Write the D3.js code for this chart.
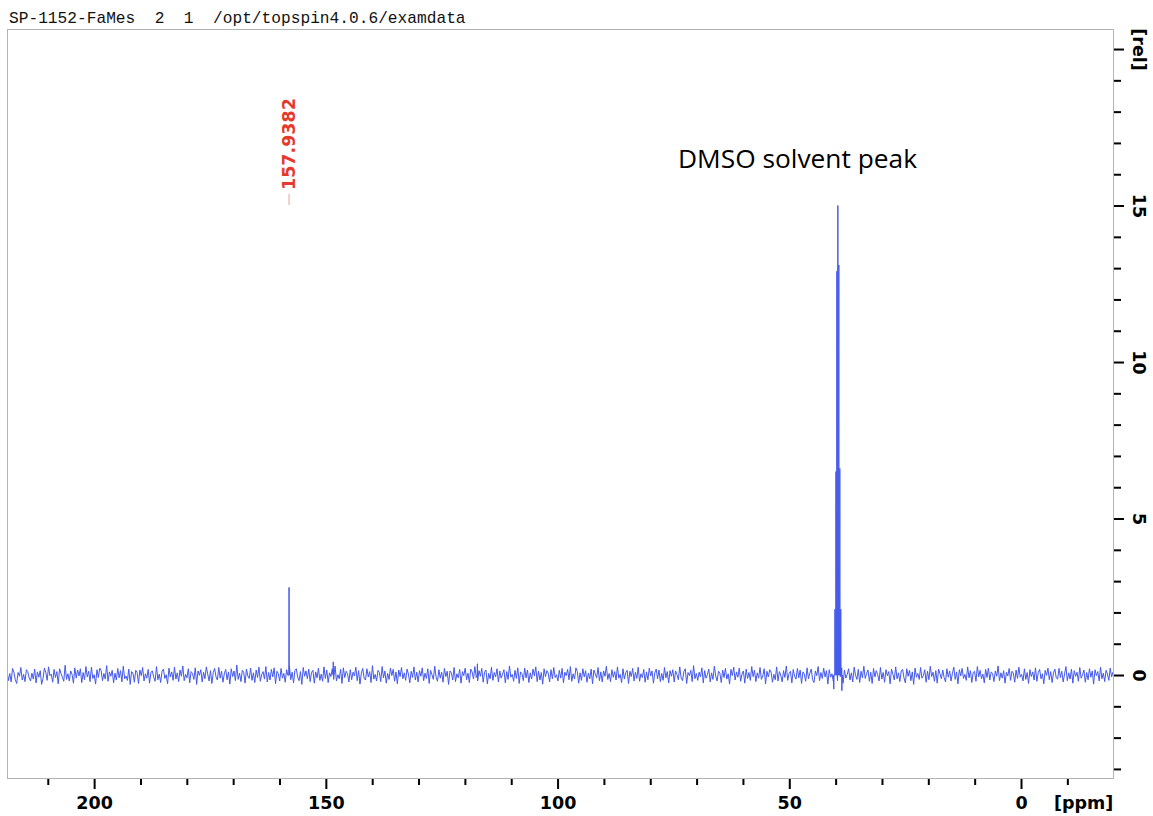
<!DOCTYPE html>
<html>
<head>
<meta charset="utf-8">
<script src="https://cdn.jsdelivr.net/npm/d3@7"></script>
<style>
  html, body { margin: 0; padding: 0; background: #fff; }
  svg { display: block; }
</style>
</head>
<body>
<svg id="chart" width="1153" height="816"></svg>
<script>
// 13C spectrum, SP-1152-FaMes (DMSO-d6)
const titleText = "SP-1152-FaMes  2  1  /opt/topspin4.0.6/examdata";

// Chemical-shift window of the processed spectrum (ppm, left to right)
const ppmLeft = 218.8;
const ppmRight = -19.85;

// Baseline noise, sampled evenly across the window (rel units)
const baselineNoise = [
  .12,-.18,.05,-.22,.21,.09,-.15,-.27,.08,-.04,.24,-.16,.02,-.21,.17,.11,-.09,-.19,.06,-.13,
  .19,-.25,.1,-.07,.14,-.3,-.12,.22,.09,-.17,.26,-.02,.03,-.23,.18,-.08,.11,-.28,.2,.05,
  -.07,-.2,.31,-.14,.04,-.19,.13,.02,-.26,.23,-.1,.16,-.03,.2,-.24,.08,-.15,.27,-.06,.12,
  -.21,.25,-.11,.01,-.29,.17,-.08,.22,.14,-.18,.05,-.13,.3,-.2,.1,-.04,.15,-.25,.06,-.16,
  .21,-.09,.14,-.22,.28,-.12,-.03,-.17,.19,-.3,.11,.06,-.23,.15,.08,-.27,.16,-.02,.24,-.19,
  .04,-.1,.18,-.26,.09,.13,-.07,-.2,.27,-.15,.03,-.24,.12,.19,-.11,.01,-.28,.22,-.06,.1,
  -.17,.25,-.13,.07,-.21,.16,-.04,.29,-.18,.02,-.09,.2,-.25,.11,.05,-.14,.23,-.3,.13,-.01,
  .17,-.22,.09,-.12,.26,.03,-.19,.14,-.27,.08,.21,-.06,-.16,.24,-.1,.12,-.23,.04,.18,-.15,
  .1,-.29,.2,-.05,.13,-.18,.32,-.14,.06,-.21,.15,.09,-.26,.19,-.03,-.11,.22,-.17,.07,-.24,
  .16,-.08,.25,-.2,.02,.11,-.13,.27,-.22,.08,-.16,.18,-.06,.23,-.28,.12,.04,-.19,.21,-.1,
  .05,-.23,.17,-.02,.28,-.15,.09,-.25,.14,.2,-.07,-.18,.11,-.3,.24,-.04,.13,-.12,.19,-.21,
  .08,.15,-.26,.1,-.09,.22,-.17,.03,-.2,.26,-.11,.16,-.24,.07,-.05,.2,-.14,.29,-.19,.01,
  -.12,.18,-.27,.23,-.08,.12,.04,-.22,.17,-.15,.09,-.03,.25,-.18,.14,-.29,.06,.21,-.1,-.16,
  .2,-.06,.11,-.24,.3,-.13,.02,-.19,.15,.08,-.21,.27,-.09,.13,-.26,.05,-.14,.22,-.02,.18,
  -.2,.1,-.28,.16,-.05,.24,-.12,.07,-.17,.19,.03,-.25,.12,-.08,.26,-.16,.09,-.22,.14,-.04,
  .23,-.18,.06,-.11,.2,-.27,.15,.01,-.14,.28,-.07,-.2,.17,-.1,.09,-.23,.21,-.05,.12,-.3,
  .13,.07,-.16,.24,-.21,.04,-.09,.18,-.26,.11,-.02,.22,-.15,.06,-.24,.19,.1,-.13,.27,-.08,
  -.19,.14,-.04,.21,-.23,.09,.16,-.28,.05,-.12,.25,-.17,.08,-.06,.2,-.22,.13,-.1,.03,.17,
  -.25,.11,-.14,.29,-.07,.02,-.2,.15,-.11,.23,-.27,.1,.04,-.18,.22,-.09,.16,-.24,.07,-.13,
  .19,-.03,.26,-.21,.12,-.16,.08,-.29,.2,-.05,.14,.06,-.22,.17,-.12,.24,-.08,.01,-.19,.15,
  -.1,.21,-.25,.09,-.02,.18,-.15,.27,-.2,.04,-.13,.23,.11,-.26,.07,-.17,.2,-.06,.14,-.23,
  .06,-.12,.19,-.28,.16,.03,-.09,.24,-.18,.1,-.22,.13,-.04,.28,-.14,.05,-.21,.17,-.07,.11,
  -.16,.26,-.1,.02,-.24,.2,-.13,.08,.15,-.27,.12,-.05,.21,-.19,.09,-.11,.25,-.2,.04,-.08,
  .18,-.23,.1,-.15,.22,-.03,.13,-.26,.07,.19,-.12,.16,-.21,.05,-.17,.24,-.09,.11,-.25,.14,
  -.04,.17,-.22,.13,.02,-.15,.26,-.09,-.18,.11,.2,-.27,.08,-.02,.15,-.21,.3,-.12,.05,-.17,
  .09,-.06,.23,-.25,.14,-.1,.01,.19,-.22,.07,-.14,.28,-.03,-.19,.12,.06,-.24,.16,-.08,.21,
  -.13,.04,-.29,.18,-.02,.25,-.16,.1,-.07,.22,-.2,.03,.13,-.26,.19,-.11,.08,-.17,.27,-.05,
  .15,-.21,.07,-.1,.24,-.14,-.03,.2,-.28,.12,-.06,.17,.09,-.23,.02,-.15,.26,-.19,.11,-.01,
  -.22,.14,-.08,.29,-.17,.05,.12,-.25,.18,-.04,-.13,.21,-.09,.16,-.27,.1,.03,-.2,.23,-.12,
  .06,.19,-.15,-.24,.13,-.02,.27,-.18,.08,-.11,.22,-.06,.14,-.29,.17,-.07,.04,-.21,.15,.09,
  -.18,.11,-.05,.23,-.26,.16,-.1,.02,.2,-.16,.07,-.22,.25,-.01,-.14,.18,-.24,.12,-.09,.28,
  -.11,.05,.16,-.2,.09,-.27,.21,-.06,.14,.01,-.19,.24,-.13,.08,-.23,.17,-.02,.11,-.28,.19,
  .03,-.16,.26,-.12,.07,-.21,.13,.18,-.09,-.25,.2,-.04,.15,-.18,.1,-.3,.22,-.07,.05,-.14,
  .24,-.1,-.02,.17,-.23,.12,-.15,.28,-.05,.09,-.2,.14,-.26,.19,.04,-.12,.16,-.08,-.22,.2,
  -.07,.13,-.19,.06,.25,-.14,.1,-.28,.17,-.03,.21,-.11,.02,-.17,.26,-.09,.14,-.24,.08,.12,
  -.2,.27,-.06,.15,-.12,.03,-.25,.18,-.08,.22,-.16,.1,.05,-.21,.13,-.04,.29,-.18,.07,-.1,
  .14,-.26,.09,-.03,.21,-.17,.12,.06,-.23,.16,-.11,.25,-.07,.02,-.19,.2,-.14,.08,-.27,.17,
  -.05,.1,-.16,.23,-.2,.08,.18,-.12,.04,-.28,.15,-.01,.22,-.15,.11,-.24,.06,.19,-.09,-.13,
  .21,-.08,.12,-.22,.03,.27,-.18,.07,-.13,.19,-.26,.14,-.04,.09,-.2,.24,-.1,.01,.16,-.23,
  .08,-.15,.2,-.07,.13,-.29,.17,-.02,.11,-.19,.25,-.12,.06,-.21,.15,.03,-.17,.22,-.06,.1
];

// Resolved lines: sample peak, two weak lines, DMSO-d6 septet and its base dips
const peakPpm    = [157.9382, 148.4, 117.3, 40.40, 40.14, 39.93, 39.73, 39.52, 39.31, 39.10, 38.89, 38.65];
const peakHeight = [2.80,     0.42,  0.36,  -0.45, 2.1,   6.5,   12.9,  15.0,  13.1,  6.6,   2.1,   -0.5];
const labelledPeaks = [0];

// Axis ticks
const xMajorTicks = [200, 150, 100, 50, 0];
const xMinorTicks = [210, 190, 180, 170, 160, 140, 130, 120, 110, 90, 80, 70, 60, 40, 30, 20, 10, -10];
const yMajorTicks = [0, 5, 10, 15, 20];
const yMinorTicks = [-3, -2, -1, 1, 2, 3, 4, 6, 7, 8, 9, 11, 12, 13, 14, 16, 17, 18, 19];
const xUnit = "[ppm]";
const yUnit = "[rel]";
const solventNote = "DMSO solvent peak";

const svg = d3.select("#chart");
const frame = { left: 7, top: 29, right: 1113, bottom: 778 };

const x = d3.scaleLinear().domain([ppmLeft, ppmRight]).range([frame.left, frame.right]);
const y = d3.scaleLinear().domain([-3.29, 20.64]).range([frame.bottom, frame.top]);

// Build the trace: noise samples plus narrow line shapes, ordered by shift
const step = (ppmLeft - ppmRight) / (baselineNoise.length - 1);
const points = baselineNoise.map((v, i) => [ppmLeft - i * step, v]);
const halfWidth = 0.05;
peakPpm.forEach((p, i) => {
  points.push([p + halfWidth, 0]);
  points.push([p, peakHeight[i]]);
  points.push([p - halfWidth, 0]);
});
points.sort((a, b) => b[0] - a[0]);

svg.append("rect").attr("width", 1153).attr("height", 816).attr("fill", "#fff");

// Header line
svg.append("text")
  .attr("x", 9).attr("y", 23)
  .attr("font-family", "'Liberation Mono', 'DejaVu Sans Mono', monospace")
  .attr("font-size", 16.2)
  .attr("fill", "#111")
  .attr("xml:space", "preserve")
  .style("white-space", "pre")
  .text(titleText);

// Plot frame
svg.append("rect")
  .attr("x", frame.left + 0.5).attr("y", frame.top + 0.5)
  .attr("width", frame.right - frame.left).attr("height", frame.bottom - frame.top)
  .attr("fill", "none").attr("stroke", "#b4b4b4").attr("stroke-width", 1);

svg.append("clipPath").attr("id", "plotClip")
  .append("rect")
  .attr("x", frame.left + 1).attr("y", frame.top + 1)
  .attr("width", frame.right - frame.left - 1).attr("height", frame.bottom - frame.top - 1);

// Spectrum trace
const line = d3.line().x(d => x(d[0])).y(d => y(d[1]));
svg.append("path")
  .datum(points)
  .attr("clip-path", "url(#plotClip)")
  .attr("d", line)
  .attr("fill", "none")
  .attr("stroke", "#4358ec")
  .attr("stroke-width", 1)
  .attr("stroke-linejoin", "miter");

const tickFont = "'DejaVu Sans', sans-serif";

function styleTicks(g) {
  g.select(".domain").remove();
  g.selectAll(".tick line").attr("stroke", "#000").attr("stroke-width", 2);
  g.selectAll(".tick text")
    .attr("font-family", tickFont).attr("font-weight", "bold")
    .attr("font-size", 17.5).attr("fill", "#000");
}

// x axis (ppm, decreasing to the right)
svg.append("g")
  .attr("transform", `translate(0,${frame.bottom + 1})`)
  .call(d3.axisBottom(x).tickValues(xMinorTicks).tickSize(6).tickFormat(""))
  .call(styleTicks);

svg.append("g")
  .attr("transform", `translate(0,${frame.bottom + 1})`)
  .call(d3.axisBottom(x).tickValues(xMajorTicks).tickSize(10).tickPadding(8).tickFormat(d3.format("d")))
  .call(styleTicks);

svg.append("text")
  .attr("x", 1054).attr("y", 809)
  .attr("font-family", tickFont).attr("font-weight", "bold")
  .attr("font-size", 17.5).attr("fill", "#000")
  .text(xUnit);

// y axis (rel), on the right with rotated labels
svg.append("g")
  .attr("transform", `translate(${frame.right + 1},0)`)
  .call(d3.axisRight(y).tickValues(yMinorTicks).tickSize(7).tickFormat(""))
  .call(styleTicks);

svg.append("g")
  .attr("transform", `translate(${frame.right + 1},0)`)
  .call(d3.axisRight(y).tickValues(yMajorTicks).tickSize(10)
    .tickFormat(d => d === 20 ? yUnit : d3.format("d")(d)))
  .call(styleTicks)
  .call(g => g.selectAll(".tick text")
    .attr("x", null).attr("dy", null)
    .attr("text-anchor", "middle")
    .attr("dominant-baseline", "central")
    .attr("transform", "translate(25,0) rotate(90)"));

// Peak picking label
labelledPeaks.forEach(i => {
  const px = x(peakPpm[i]);
  svg.append("line")
    .attr("x1", px).attr("x2", px)
    .attr("y1", 194).attr("y2", 205)
    .attr("stroke", "#eaa19b").attr("stroke-width", 1);
  svg.append("text")
    .attr("transform", `translate(${px},190) rotate(-90)`)
    .attr("text-anchor", "start")
    .attr("dominant-baseline", "central")
    .attr("font-family", tickFont).attr("font-weight", "bold")
    .attr("font-size", 17.5)
    .attr("fill", "#e5392c")
    .text(peakPpm[i].toFixed(4));
});

// Solvent annotation
svg.append("text")
  .attr("x", 678).attr("y", 168)
  .attr("font-family", "'Open Sans', sans-serif")
  .attr("font-size", 26.3)
  .attr("fill", "#000")
  .text(solventNote);
</script>
</body>
</html>
